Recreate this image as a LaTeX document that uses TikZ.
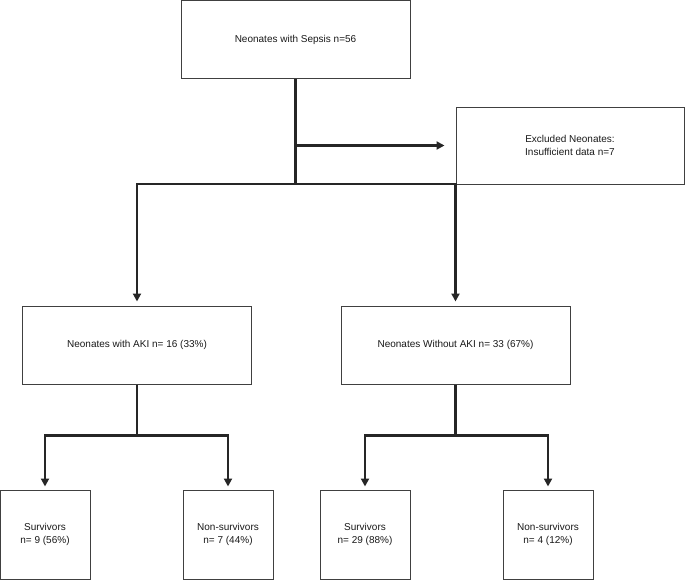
\documentclass[tikz,border=0pt]{standalone}
\usepackage{fontspec}
\setmainfont{Liberation Sans}
\usetikzlibrary{arrows.meta}
\begin{document}
\begin{tikzpicture}[x=1pt,y=-1pt]
% Styles
\tikzstyle{boite}=[draw=black!75,line width=1pt,rectangle,align=center,text=black!90,font=\fontsize{10}{12.5}\selectfont]
\tikzstyle{ligne}=[line width=2.2pt,draw=black!85]
\tikzstyle{fleche}=[ligne,->,>={Triangle[width=8pt,length=8pt]},shorten >=4pt]
% Dimensions Modifiables
\def\LrgG{229}
\def\HtG{78}
\def\LrgP{90}
\def\HtP{89}
% Cadre de l'image
\useasboundingbox (0,0) rectangle (685,579);
% Niveau 1 : toutes les inclusions
\node[boite,minimum width=\LrgG pt,minimum height=\HtG pt] (sepsis) at (295.5,39.5) {Neonates with Sepsis n=56};
\node[boite,minimum width=228pt,minimum height=77pt] (exclus) at (570,145.5) {Excluded Neonates:\\Insufficient data n=7};
% Niveau 2 : avec ou sans AKI
\node[boite,minimum width=\LrgG pt,minimum height=\HtG pt] (aki) at (137,345) {Neonates with AKI n= 16 (33\%)};
\node[boite,minimum width=\LrgG pt,minimum height=\HtG pt] (sansaki) at (455.5,345) {Neonates Without AKI n= 33 (67\%)};
% Niveau 3 : devenir
\node[boite,minimum width=\LrgP pt,minimum height=\HtP pt] (survA) at (45,534.5) {Survivors\\n= 9 (56\%)};
\node[boite,minimum width=\LrgP pt,minimum height=\HtP pt] (decesA) at (228,534.5) {Non-survivors\\n= 7 (44\%)};
\node[boite,minimum width=\LrgP pt,minimum height=\HtP pt] (survB) at (365,534.5) {Survivors\\n= 29 (88\%)};
\node[boite,minimum width=\LrgP pt,minimum height=\HtP pt] (decesB) at (548,534.5) {Non-survivors\\n= 4 (12\%)};
% Jonctions
\coordinate (branche) at (sepsis.south |- exclus.west);
\path (sepsis.south) ++(0,105) coordinate (jonction);
\path (aki.south) ++(0,51) coordinate (jonctionA);
\path (sansaki.south) ++(0,51) coordinate (jonctionB);
% Liaisons
\draw[ligne] (sepsis.south) -- (jonction);
\draw[fleche,shorten >=11pt] (branche) -- (exclus.west);
\draw[fleche] (jonction) -| (aki.north);
\draw[fleche] (jonction) -| (sansaki.north);
\draw[ligne] (aki.south) -- (jonctionA);
\draw[fleche,shorten >=3pt] (jonctionA) -| (survA.north);
\draw[fleche,shorten >=3pt] (jonctionA) -| (decesA.north);
\draw[ligne] (sansaki.south) -- (jonctionB);
\draw[fleche,shorten >=3pt] (jonctionB) -| (survB.north);
\draw[fleche,shorten >=3pt] (jonctionB) -| (decesB.north);
\end{tikzpicture}
\end{document}
